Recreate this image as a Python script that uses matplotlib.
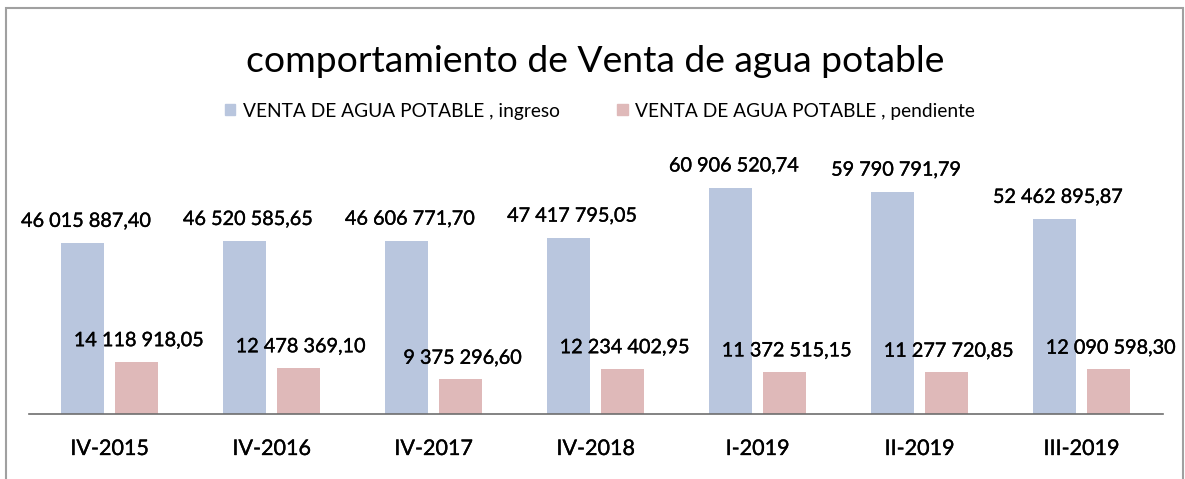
import matplotlib.pyplot as plt
import matplotlib.patches as mpatches
import matplotlib.patheffects as pe
import numpy as np

periodos = ["IV-2015", "IV-2016", "IV-2017", "IV-2018", "I-2019", "II-2019", "III-2019"]
ingreso = [46015887.40, 46520585.65, 46606771.70, 47417795.05, 60906520.74, 59790791.79, 52462895.87]
pendiente = [14118918.05, 12478369.10, 9375296.60, 12234402.95, 11372515.15, 11277720.85, 12090598.30]

azul = "#b9c6de"
rosa = "#dfb9b9"
fuente = "Lato"
grueso = [pe.withStroke(linewidth=0.25, foreground="black")]


def formato(v):
    # 46 015 887,40
    s = f"{v:,.2f}"
    return s.replace(",", " ").replace(".", ",")


fig = plt.figure(figsize=(11.85, 4.79), dpi=100)
ax = fig.add_axes([28.5 / 1185, 65 / 479, 1134 / 1185, 264 / 479])

x = np.arange(len(periodos))
w = 0.265
off = 0.167
ax.bar(x - off, ingreso, w, color=azul)
ax.bar(x + off, pendiente, w, color=rosa)

for i in range(len(periodos)):
    ax.annotate(formato(ingreso[i]), (x[i] - off, ingreso[i]), xytext=(2.5, 15.5),
                textcoords="offset points", ha="center", va="center",
                fontsize=14.3, family=fuente, color="black", path_effects=grueso)
    ax.annotate(formato(pendiente[i]), (x[i] + off, pendiente[i]), xytext=(1.5, 15),
                textcoords="offset points", ha="center", va="center",
                fontsize=14.3, family=fuente, color="black", path_effects=grueso)

ax.set_xlim(-0.5, 6.5)
ax.set_ylim(0, 71.0e6)
ax.set_xticks(x)
ax.set_xticklabels(periodos, fontsize=15.5, family=fuente)
for t in ax.get_xticklabels():
    t.set_path_effects(grueso)
ax.tick_params(axis="x", length=0, pad=18)
ax.set_yticks([])
for s in ["top", "left", "right"]:
    ax.spines[s].set_visible(False)
ax.spines["bottom"].set_color("#6e6e6e")
ax.spines["bottom"].set_linewidth(1.2)

fig.text(595 / 1185, 1 - 61 / 479, "comportamiento de Venta de agua potable",
         ha="center", va="center", fontsize=26.8, family=fuente, color="black")

handles = [mpatches.Patch(color=azul, label="VENTA DE AGUA POTABLE , ingreso"),
           mpatches.Patch(color=rosa, label="VENTA DE AGUA POTABLE , pendiente")]
fig.legend(handles=handles, loc="center", bbox_to_anchor=(600 / 1185, 1 - 111 / 479),
           ncol=2, frameon=False, handlelength=0.55, handleheight=0.55,
           handletextpad=0.4, columnspacing=3.0, prop={"family": fuente, "size": 13.8})

# marco del grafico
marco = mpatches.Rectangle((6 / 1185, -0.05), 1177 / 1185, 1.05 - 8 / 479,
                           transform=fig.transFigure, fill=False,
                           edgecolor="#a0a0a0", linewidth=1.5)
fig.add_artist(marco)

fig.savefig("out.png", dpi=100)
